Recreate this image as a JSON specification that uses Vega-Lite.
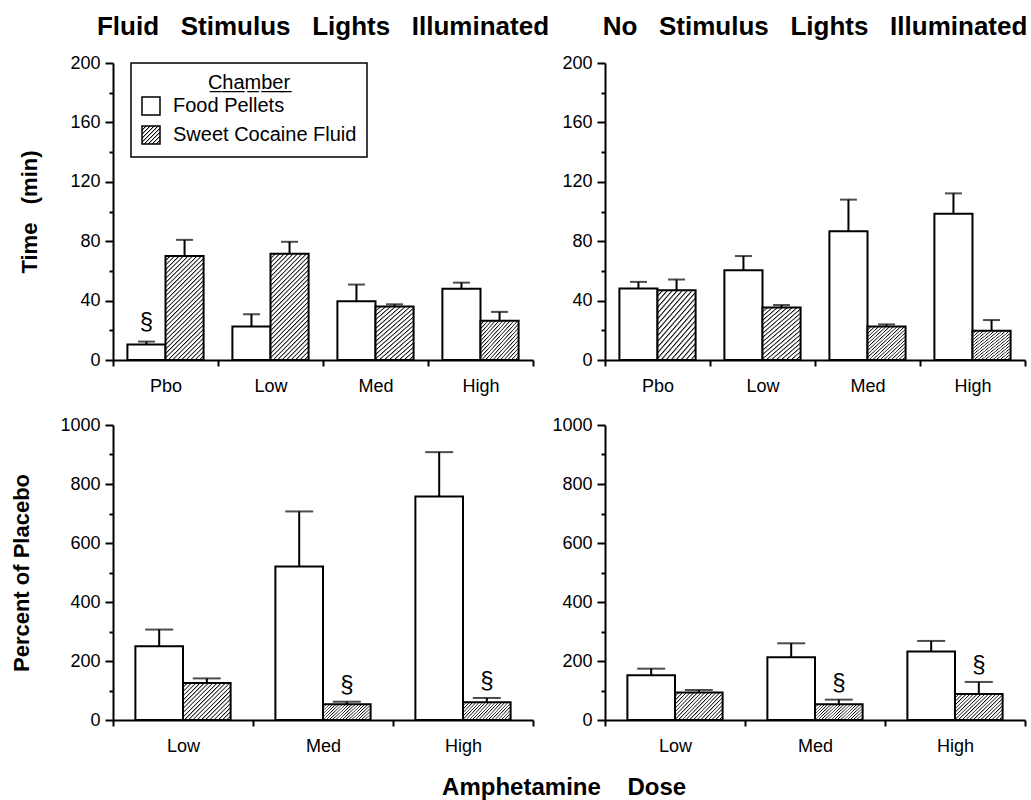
{
"$schema": "https://vega.github.io/schema/vega-lite/v6.json",
"padding": {"left": 10, "top": 14, "right": 5, "bottom": 5},
"params": [
{"name": "g1", "value": {"gradient": "linear", "x1": 0, "y1": 0, "x2": 0.4363, "y2": 1.2042, "stops": [
{"offset":0,"color":"#000"},{"offset":0.0109,"color":"#fff"},{"offset":0.025,"color":"#fff"},
{"offset":0.03125,"color":"#000"},{"offset":0.0422,"color":"#fff"},{"offset":0.05625,"color":"#fff"},
{"offset":0.0625,"color":"#000"},{"offset":0.0734,"color":"#fff"},{"offset":0.0875,"color":"#fff"},
{"offset":0.09375,"color":"#000"},{"offset":0.1047,"color":"#fff"},{"offset":0.11875,"color":"#fff"},
{"offset":0.125,"color":"#000"},{"offset":0.1359,"color":"#fff"},{"offset":0.15,"color":"#fff"},
{"offset":0.15625,"color":"#000"},{"offset":0.1672,"color":"#fff"},{"offset":0.18125,"color":"#fff"},
{"offset":0.1875,"color":"#000"},{"offset":0.1984,"color":"#fff"},{"offset":0.2125,"color":"#fff"},
{"offset":0.21875,"color":"#000"},{"offset":0.2297,"color":"#fff"},{"offset":0.24375,"color":"#fff"},
{"offset":0.25,"color":"#000"},{"offset":0.2609,"color":"#fff"},{"offset":0.275,"color":"#fff"},
{"offset":0.28125,"color":"#000"},{"offset":0.2922,"color":"#fff"},{"offset":0.30625,"color":"#fff"},
{"offset":0.3125,"color":"#000"},{"offset":0.3234,"color":"#fff"},{"offset":0.3375,"color":"#fff"},
{"offset":0.34375,"color":"#000"},{"offset":0.3547,"color":"#fff"},{"offset":0.36875,"color":"#fff"},
{"offset":0.375,"color":"#000"},{"offset":0.3859,"color":"#fff"},{"offset":0.4,"color":"#fff"},
{"offset":0.40625,"color":"#000"},{"offset":0.4172,"color":"#fff"},{"offset":0.43125,"color":"#fff"},
{"offset":0.4375,"color":"#000"},{"offset":0.4484,"color":"#fff"},{"offset":0.4625,"color":"#fff"},
{"offset":0.46875,"color":"#000"},{"offset":0.4797,"color":"#fff"},{"offset":0.49375,"color":"#fff"},
{"offset":0.5,"color":"#000"},{"offset":0.5109,"color":"#fff"},{"offset":0.525,"color":"#fff"},
{"offset":0.53125,"color":"#000"},{"offset":0.5422,"color":"#fff"},{"offset":0.55625,"color":"#fff"},
{"offset":0.5625,"color":"#000"},{"offset":0.5734,"color":"#fff"},{"offset":0.5875,"color":"#fff"},
{"offset":0.59375,"color":"#000"},{"offset":0.6047,"color":"#fff"},{"offset":0.61875,"color":"#fff"},
{"offset":0.625,"color":"#000"},{"offset":0.6359,"color":"#fff"},{"offset":0.65,"color":"#fff"},
{"offset":0.65625,"color":"#000"},{"offset":0.6672,"color":"#fff"},{"offset":0.68125,"color":"#fff"},
{"offset":0.6875,"color":"#000"},{"offset":0.6984,"color":"#fff"},{"offset":0.7125,"color":"#fff"},
{"offset":0.71875,"color":"#000"},{"offset":0.7297,"color":"#fff"},{"offset":0.74375,"color":"#fff"},
{"offset":0.75,"color":"#000"},{"offset":0.7609,"color":"#fff"},{"offset":0.775,"color":"#fff"},
{"offset":0.78125,"color":"#000"},{"offset":0.7922,"color":"#fff"},{"offset":0.80625,"color":"#fff"},
{"offset":0.8125,"color":"#000"},{"offset":0.8234,"color":"#fff"},{"offset":0.8375,"color":"#fff"},
{"offset":0.84375,"color":"#000"},{"offset":0.8547,"color":"#fff"},{"offset":0.86875,"color":"#fff"},
{"offset":0.875,"color":"#000"},{"offset":0.8859,"color":"#fff"},{"offset":0.9,"color":"#fff"},
{"offset":0.90625,"color":"#000"},{"offset":0.9172,"color":"#fff"},{"offset":0.93125,"color":"#fff"},
{"offset":0.9375,"color":"#000"},{"offset":0.9484,"color":"#fff"},{"offset":0.9625,"color":"#fff"},
{"offset":0.96875,"color":"#000"},{"offset":0.9797,"color":"#fff"},{"offset":0.99375,"color":"#fff"},
{"offset":1,"color":"#000"}]}},
{"name": "s20", "value": [
{"offset":0,"color":"#000"},{"offset":0.0175,"color":"#fff"},{"offset":0.04,"color":"#fff"},
{"offset":0.05,"color":"#000"},{"offset":0.0675,"color":"#fff"},{"offset":0.09,"color":"#fff"},
{"offset":0.1,"color":"#000"},{"offset":0.1175,"color":"#fff"},{"offset":0.14,"color":"#fff"},
{"offset":0.15,"color":"#000"},{"offset":0.1675,"color":"#fff"},{"offset":0.19,"color":"#fff"},
{"offset":0.2,"color":"#000"},{"offset":0.2175,"color":"#fff"},{"offset":0.24,"color":"#fff"},
{"offset":0.25,"color":"#000"},{"offset":0.2675,"color":"#fff"},{"offset":0.29,"color":"#fff"},
{"offset":0.3,"color":"#000"},{"offset":0.3175,"color":"#fff"},{"offset":0.34,"color":"#fff"},
{"offset":0.35,"color":"#000"},{"offset":0.3675,"color":"#fff"},{"offset":0.39,"color":"#fff"},
{"offset":0.4,"color":"#000"},{"offset":0.4175,"color":"#fff"},{"offset":0.44,"color":"#fff"},
{"offset":0.45,"color":"#000"},{"offset":0.4675,"color":"#fff"},{"offset":0.49,"color":"#fff"},
{"offset":0.5,"color":"#000"},{"offset":0.5175,"color":"#fff"},{"offset":0.54,"color":"#fff"},
{"offset":0.55,"color":"#000"},{"offset":0.5675,"color":"#fff"},{"offset":0.59,"color":"#fff"},
{"offset":0.6,"color":"#000"},{"offset":0.6175,"color":"#fff"},{"offset":0.64,"color":"#fff"},
{"offset":0.65,"color":"#000"},{"offset":0.6675,"color":"#fff"},{"offset":0.69,"color":"#fff"},
{"offset":0.7,"color":"#000"},{"offset":0.7175,"color":"#fff"},{"offset":0.74,"color":"#fff"},
{"offset":0.75,"color":"#000"},{"offset":0.7675,"color":"#fff"},{"offset":0.79,"color":"#fff"},
{"offset":0.8,"color":"#000"},{"offset":0.8175,"color":"#fff"},{"offset":0.84,"color":"#fff"},
{"offset":0.85,"color":"#000"},{"offset":0.8675,"color":"#fff"},{"offset":0.89,"color":"#fff"},
{"offset":0.9,"color":"#000"},{"offset":0.9175,"color":"#fff"},{"offset":0.94,"color":"#fff"},
{"offset":0.95,"color":"#000"},{"offset":0.9675,"color":"#fff"},{"offset":0.99,"color":"#fff"},
{"offset":1,"color":"#000"}]},
{"name": "g7", "value": {"gradient": "linear", "x1": 0, "y1": 0, "x2": 1, "y2": 1, "stops": [
{"offset":0,"color":"#000"},{"offset":0.039,"color":"#fff"},{"offset":0.089,"color":"#fff"},
{"offset":0.111,"color":"#000"},{"offset":0.15,"color":"#fff"},{"offset":0.2,"color":"#fff"},
{"offset":0.222,"color":"#000"},{"offset":0.261,"color":"#fff"},{"offset":0.311,"color":"#fff"},
{"offset":0.333,"color":"#000"},{"offset":0.372,"color":"#fff"},{"offset":0.422,"color":"#fff"},
{"offset":0.444,"color":"#000"},{"offset":0.483,"color":"#fff"},{"offset":0.533,"color":"#fff"},
{"offset":0.556,"color":"#000"},{"offset":0.594,"color":"#fff"},{"offset":0.644,"color":"#fff"},
{"offset":0.667,"color":"#000"},{"offset":0.706,"color":"#fff"},{"offset":0.756,"color":"#fff"},
{"offset":0.778,"color":"#000"},{"offset":0.817,"color":"#fff"},{"offset":0.867,"color":"#fff"},
{"offset":0.889,"color":"#000"},{"offset":0.928,"color":"#fff"},{"offset":0.978,"color":"#fff"},
{"offset":1,"color":"#000"}]}},
{"name": "g2", "expr": "{gradient: 'linear', x1: 0, y1: 0, x2: 0.7303, y2: 1.1685, stops: s20}"},
{"name": "g3", "expr": "{gradient: 'linear', x1: 0, y1: 0, x2: 1.025, y2: 0.9737, stops: s20}"},
{"name": "g4", "expr": "{gradient: 'linear', x1: 0, y1: 0, x2: 1.1067, y2: 0.8632, stops: s20}"},
{"name": "g5", "expr": "{gradient: 'linear', x1: 0, y1: 0, x2: 1.1876, y2: 0.6651, stops: s20}"},
{"name": "g6", "expr": "{gradient: 'linear', x1: 0, y1: 0, x2: 1.2027, y2: 0.4209, stops: s20}"}
],
"datasets": {
"tl": [
{"dose":"Pbo","chamber":"Food Pellets","value":10.5,"upper":12.4,"sig":"§"},
{"dose":"Pbo","chamber":"Sweet Cocaine Fluid","value":70,"upper":80.9},
{"dose":"Low","chamber":"Food Pellets","value":22.5,"upper":30.8},
{"dose":"Low","chamber":"Sweet Cocaine Fluid","value":71.5,"upper":79.6},
{"dose":"Med","chamber":"Food Pellets","value":39.6,"upper":50.8},
{"dose":"Med","chamber":"Sweet Cocaine Fluid","value":36,"upper":37.5},
{"dose":"High","chamber":"Food Pellets","value":47.9,"upper":52.1},
{"dose":"High","chamber":"Sweet Cocaine Fluid","value":26.5,"upper":32.4}
],
"tr": [
{"dose":"Pbo","chamber":"Food Pellets","value":48.2,"upper":52.6},
{"dose":"Pbo","chamber":"Sweet Cocaine Fluid","value":47,"upper":54.2},
{"dose":"Low","chamber":"Food Pellets","value":60.5,"upper":70},
{"dose":"Low","chamber":"Sweet Cocaine Fluid","value":35.4,"upper":37},
{"dose":"Med","chamber":"Food Pellets","value":86.7,"upper":108},
{"dose":"Med","chamber":"Sweet Cocaine Fluid","value":22.6,"upper":24},
{"dose":"High","chamber":"Food Pellets","value":98.5,"upper":112.2},
{"dose":"High","chamber":"Sweet Cocaine Fluid","value":19.7,"upper":26.9}
],
"bl": [
{"dose":"Low","chamber":"Food Pellets","value":250,"upper":306.6},
{"dose":"Low","chamber":"Sweet Cocaine Fluid","value":125.6,"upper":141},
{"dose":"Med","chamber":"Food Pellets","value":520,"upper":707},
{"dose":"Med","chamber":"Sweet Cocaine Fluid","value":53,"upper":62,"sig":"§"},
{"dose":"High","chamber":"Food Pellets","value":758,"upper":908},
{"dose":"High","chamber":"Sweet Cocaine Fluid","value":60,"upper":74.7,"sig":"§"}
],
"br": [
{"dose":"Low","chamber":"Food Pellets","value":151.6,"upper":174},
{"dose":"Low","chamber":"Sweet Cocaine Fluid","value":92.8,"upper":101.8},
{"dose":"Med","chamber":"Food Pellets","value":212.7,"upper":260},
{"dose":"Med","chamber":"Sweet Cocaine Fluid","value":53,"upper":69,"sig":"§"},
{"dose":"High","chamber":"Food Pellets","value":232,"upper":268},
{"dose":"High","chamber":"Sweet Cocaine Fluid","value":88,"upper":129,"sig":"§"}
]
},
"title": {"text": "Amphetamine\u00a0\u00a0\u00a0 Dose", "orient": "bottom", "anchor": "middle", "fontSize": 24, "fontWeight": "bold", "offset": 21, "dx": 45, "color": "black"},
"columns": 2,
"bounds": "flush",
"spacing": {"row": 65, "column": 72},
"resolve": {"scale": {"x": "independent", "y": "independent", "xOffset": "independent", "fill": "independent"}, "legend": {"fill": "independent"}},
"concat": [
{
"width": 420, "height": 297,
"title": {"text": "Fluid\u00a0\u00a0 Stimulus\u00a0\u00a0 Lights\u00a0\u00a0 Illuminated", "fontSize": 26, "fontWeight": "bold", "anchor": "middle", "frame": "group", "offset": 14, "color": "black"},
"data": {"name": "tl"},
"encoding": {
  "x": {"field": "dose", "type": "nominal", "scale": {"domain": ["Pbo","Low","Med","High"], "paddingInner": 0, "paddingOuter": 0}, "axis": {"title": null, "labelAngle": 0, "tickBand": "extent", "tickSize": 6, "labelPadding": 11}},
  "xOffset": {"field": "chamber", "type": "nominal", "scale": {"domain": ["Food Pellets","Sweet Cocaine Fluid"], "paddingInner": 0, "paddingOuter": 0.378}},
  "y": {"field": "value", "type": "quantitative", "scale": {"domain": [0,200], "nice": false}, "axis": {"title": "Time\u00a0\u00a0 (min)", "format": "d", "values": [0,20,40,60,80,100,120,140,160,180,200], "labelExpr": "datum.value % 40 === 0 ? datum.label : ''", "tickSize": {"condition": {"test": "datum.value % 40 === 0", "value": 8}, "value": 4}, "labelPadding": 5, "titlePadding": 28}}
},
"layer": [
{"mark": {"type": "bar", "stroke": "black", "strokeWidth": 2},
 "encoding": {
  "fill": {"field": "chamber", "type": "nominal",
   "scale": {"domain": ["Food Pellets","Sweet Cocaine Fluid"], "range": ["white", {"expr": "g7"}]},
   "legend": {"orient": "none", "legendX": 18, "legendY": 0, "title": "C̲h̲a̲m̲b̲e̲r̲", "titleAnchor": "middle", "titleFontSize": 20, "titleFontWeight": "normal", "titleColor": "black", "titlePadding": 3, "labelFontSize": 20, "labelColor": "black", "labelOffset": 12, "labelLimit": 400, "symbolType": "square", "symbolSize": 324, "symbolStrokeColor": "black", "symbolStrokeWidth": 1.5, "strokeColor": "black", "fillColor": "white", "padding": 10, "rowPadding": 5},
   "condition": [
    {"test": "datum.chamber !== 'Food Pellets' && datum.value > 50", "value": {"expr": "g1"}},
    {"test": "datum.chamber !== 'Food Pellets' && datum.value > 30", "value": {"expr": "g2"}},
    {"test": "datum.chamber !== 'Food Pellets'", "value": {"expr": "g3"}}
   ]}
 }},
{"mark": {"type": "rule", "color": "black", "strokeWidth": 2},
 "encoding": {"y2": {"field": "upper"}}},
{"mark": {"type": "tick", "color": "black", "thickness": 2, "size": 17},
 "encoding": {"y": {"field": "upper", "type": "quantitative"}}},
{"transform": [{"filter": "isValid(datum.sig)"}],
 "mark": {"type": "text", "fontSize": 24, "baseline": "bottom", "dy": -8, "color": "black", "font": "Liberation Sans"},
 "encoding": {"y": {"field": "upper", "type": "quantitative"}, "text": {"field": "sig"}}}
]
},
{
"width": 420, "height": 297,
"title": {"text": "No\u00a0\u00a0 Stimulus\u00a0\u00a0 Lights\u00a0\u00a0 Illuminated", "fontSize": 26, "fontWeight": "bold", "anchor": "middle", "frame": "group", "offset": 14, "color": "black"},
"data": {"name": "tr"},
"encoding": {
  "x": {"field": "dose", "type": "nominal", "scale": {"domain": ["Pbo","Low","Med","High"], "paddingInner": 0, "paddingOuter": 0}, "axis": {"title": null, "labelAngle": 0, "tickBand": "extent", "tickSize": 6, "labelPadding": 11}},
  "xOffset": {"field": "chamber", "type": "nominal", "scale": {"domain": ["Food Pellets","Sweet Cocaine Fluid"], "paddingInner": 0, "paddingOuter": 0.378}},
  "y": {"field": "value", "type": "quantitative", "scale": {"domain": [0,200], "nice": false}, "axis": {"title": null, "format": "d", "values": [0,20,40,60,80,100,120,140,160,180,200], "labelExpr": "datum.value % 40 === 0 ? datum.label : ''", "tickSize": {"condition": {"test": "datum.value % 40 === 0", "value": 8}, "value": 4}, "labelPadding": 5}}
},
"layer": [
{"mark": {"type": "bar", "stroke": "black", "strokeWidth": 2},
 "encoding": {
  "fill": {"condition": [
    {"test": "datum.chamber === 'Food Pellets'", "value": "white"},
    {"test": "datum.value > 30", "value": {"expr": "g2"}}
   ], "value": {"expr": "g3"}}
 }},
{"mark": {"type": "rule", "color": "black", "strokeWidth": 2},
 "encoding": {"y2": {"field": "upper"}}},
{"mark": {"type": "tick", "color": "black", "thickness": 2, "size": 17},
 "encoding": {"y": {"field": "upper", "type": "quantitative"}}}
]
},
{
"width": 420, "height": 295,
"data": {"name": "bl"},
"encoding": {
  "x": {"field": "dose", "type": "nominal", "scale": {"domain": ["Low","Med","High"], "paddingInner": 0, "paddingOuter": 0}, "axis": {"title": null, "labelAngle": 0, "tickBand": "extent", "tickSize": 6, "labelPadding": 11}},
  "xOffset": {"field": "chamber", "type": "nominal", "scale": {"domain": ["Food Pellets","Sweet Cocaine Fluid"], "paddingInner": 0, "paddingOuter": 0.47}},
  "y": {"field": "value", "type": "quantitative", "scale": {"domain": [0,1000], "nice": false}, "axis": {"title": "Percent of Placebo", "format": "d", "values": [0,100,200,300,400,500,600,700,800,900,1000], "labelExpr": "datum.value % 200 === 0 ? datum.label : ''", "tickSize": {"condition": {"test": "datum.value % 200 === 0", "value": 8}, "value": 4}, "labelPadding": 5, "titlePadding": 26}}
},
"layer": [
{"mark": {"type": "bar", "stroke": "black", "strokeWidth": 2},
 "encoding": {
  "fill": {"condition": [
    {"test": "datum.chamber === 'Food Pellets'", "value": "white"},
    {"test": "datum.value > 100", "value": {"expr": "g4"}}
   ], "value": {"expr": "g6"}}
 }},
{"mark": {"type": "rule", "color": "black", "strokeWidth": 2},
 "encoding": {"y2": {"field": "upper"}}},
{"mark": {"type": "tick", "color": "black", "thickness": 2, "size": 28},
 "encoding": {"y": {"field": "upper", "type": "quantitative"}}},
{"transform": [{"filter": "isValid(datum.sig)"}],
 "mark": {"type": "text", "fontSize": 24, "baseline": "bottom", "dy": -5, "color": "black", "font": "Liberation Sans"},
 "encoding": {"y": {"field": "upper", "type": "quantitative"}, "text": {"field": "sig"}}}
]
},
{
"width": 420, "height": 295,
"data": {"name": "br"},
"encoding": {
  "x": {"field": "dose", "type": "nominal", "scale": {"domain": ["Low","Med","High"], "paddingInner": 0, "paddingOuter": 0}, "axis": {"title": null, "labelAngle": 0, "tickBand": "extent", "tickSize": 6, "labelPadding": 11}},
  "xOffset": {"field": "chamber", "type": "nominal", "scale": {"domain": ["Food Pellets","Sweet Cocaine Fluid"], "paddingInner": 0, "paddingOuter": 0.47}},
  "y": {"field": "value", "type": "quantitative", "scale": {"domain": [0,1000], "nice": false}, "axis": {"title": null, "format": "d", "values": [0,100,200,300,400,500,600,700,800,900,1000], "labelExpr": "datum.value % 200 === 0 ? datum.label : ''", "tickSize": {"condition": {"test": "datum.value % 200 === 0", "value": 8}, "value": 4}, "labelPadding": 5}}
},
"layer": [
{"mark": {"type": "bar", "stroke": "black", "strokeWidth": 2},
 "encoding": {
  "fill": {"condition": [
    {"test": "datum.chamber === 'Food Pellets'", "value": "white"},
    {"test": "datum.value > 70", "value": {"expr": "g5"}}
   ], "value": {"expr": "g6"}}
 }},
{"mark": {"type": "rule", "color": "black", "strokeWidth": 2},
 "encoding": {"y2": {"field": "upper"}}},
{"mark": {"type": "tick", "color": "black", "thickness": 2, "size": 28},
 "encoding": {"y": {"field": "upper", "type": "quantitative"}}},
{"transform": [{"filter": "isValid(datum.sig)"}],
 "mark": {"type": "text", "fontSize": 24, "baseline": "bottom", "dy": -5, "color": "black", "font": "Liberation Sans"},
 "encoding": {"y": {"field": "upper", "type": "quantitative"}, "text": {"field": "sig"}}}
]
}
],
"config": {
 "font": "Liberation Sans",
 "view": {"stroke": null},
 "axis": {"grid": false, "domainColor": "black", "domainWidth": 2, "tickColor": "black", "tickWidth": 2, "labelColor": "black", "labelFont": "Liberation Sans", "labelFontSize": 18, "titleColor": "black", "titleFont": "Liberation Sans", "titleFontSize": 22, "titleFontWeight": "bold"},
 "legend": {"labelFont": "Liberation Sans", "titleFont": "Liberation Sans", "strokeWidth": 1.5},
 "title": {"font": "Liberation Sans", "color": "black"}
}
}
